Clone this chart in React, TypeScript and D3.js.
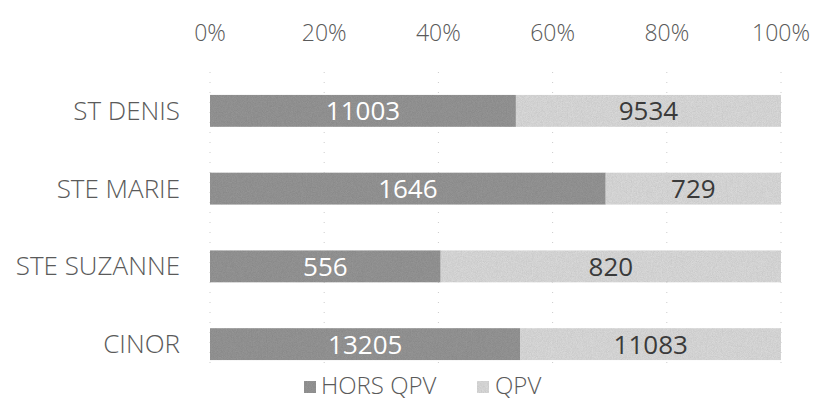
import React from "react";
import * as d3 from "d3";

const categories = ["ST DENIS", "STE MARIE", "STE SUZANNE", "CINOR"];
const horsQpv = [11003, 1646, 556, 13205];
const qpv = [9534, 729, 820, 11083];
const ticks = [0, 0.2, 0.4, 0.6, 0.8, 1];
const seriesNames = ["HORS QPV", "QPV"];

const W = 818;
const H = 408;
const FONT = "'Open Sans', 'Noto Sans', sans-serif";
const DARK = "#9c9c9c";
const LIGHT = "#e4e4e4";

export default function App() {
  const x = d3.scaleLinear().domain([0, 1]).range([210, 781]);
  const y = d3.scaleBand().domain(categories).range([72, 383]).paddingInner(0.59).paddingOuter(0.295);
  const fmt = d3.format(".0%");

  const rows = categories.map((c, i) => {
    const total = horsQpv[i] + qpv[i];
    return { c, a: horsQpv[i], b: qpv[i], pa: horsQpv[i] / total };
  });

  return (
    <svg width={W} height={H} style={{ position: "absolute", left: 0, top: 0, background: "#fff" }}>
      <defs>
        <filter id="grain" x="0" y="0" width="100%" height="100%">
          <feTurbulence type="fractalNoise" baseFrequency="1.2" numOctaves="1" seed="3" result="n" />
          <feColorMatrix in="n" type="saturate" values="0" result="g" />
          <feComponentTransfer in="g" result="g2">
            <feFuncA type="linear" slope="0" intercept="0.35" />
          </feComponentTransfer>
          <feComposite in="g2" in2="SourceGraphic" operator="in" result="m" />
          <feBlend in="m" in2="SourceGraphic" mode="multiply" />
        </filter>
      </defs>

      {/* faint gridlines */}
      {ticks.map((t) => (
        <line key={t} x1={x(t)} x2={x(t)} y1={72} y2={372} stroke="#ccc" strokeWidth={1} strokeDasharray="1 9" />
      ))}

      {/* top axis labels */}
      {ticks.map((t) => (
        <text key={t} x={x(t)} y={41} textAnchor="middle" fontFamily={FONT} fontSize={23} fontWeight={300} fill="#5a5a5a">
          {fmt(t)}
        </text>
      ))}

      {rows.map((r) => {
        const y0 = y(r.c)!;
        const bh = y.bandwidth();
        const xm = x(r.pa);
        return (
          <g key={r.c}>
            <text x={180} y={y0 + bh / 2 + 9} textAnchor="end" fontFamily={FONT} fontSize={26} fontWeight={300} fill="#5a5a5a">
              {r.c}
            </text>
            <rect x={x(0)} y={y0} width={xm - x(0)} height={bh} fill={DARK} filter="url(#grain)" />
            <rect x={xm} y={y0} width={x(1) - xm} height={bh} fill={LIGHT} filter="url(#grain)" />
            <text x={(x(0) + xm) / 2} y={y0 + bh / 2 + 9.5} textAnchor="middle" fontFamily={FONT} fontSize={26} fill="#fff">
              {r.a}
            </text>
            <text x={(xm + x(1)) / 2} y={y0 + bh / 2 + 9.5} textAnchor="middle" fontFamily={FONT} fontSize={26} fill="#3a3a3a">
              {r.b}
            </text>
          </g>
        );
      })}

      {/* legend */}
      <rect x={304} y={381} width={12} height={12} fill={DARK} filter="url(#grain)" />
      <text x={321} y={394} fontFamily={FONT} fontSize={24} fontWeight={300} fill="#5a5a5a">{seriesNames[0]}</text>
      <rect x={477} y={381} width={12} height={12} fill={LIGHT} filter="url(#grain)" />
      <text x={495} y={394} fontFamily={FONT} fontSize={24} fontWeight={300} fill="#5a5a5a">{seriesNames[1]}</text>
    </svg>
  );
}
